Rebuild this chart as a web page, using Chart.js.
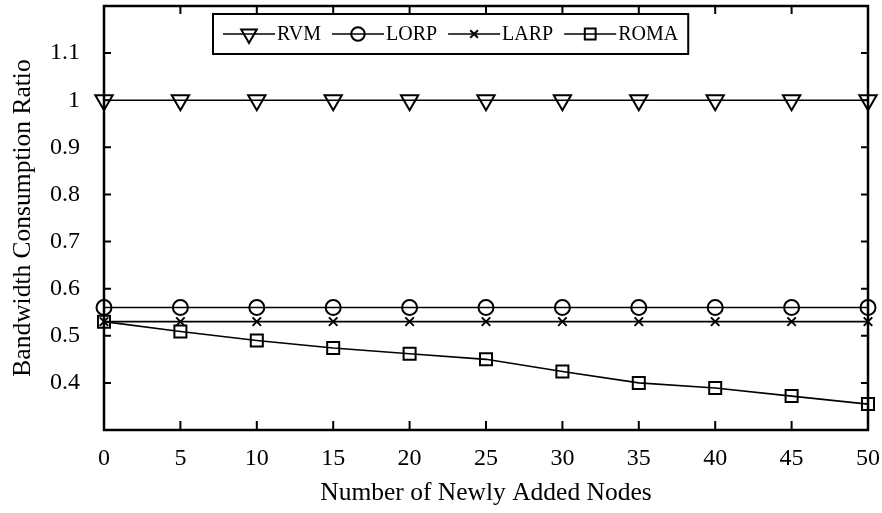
<!DOCTYPE html>
<html>
<head>
<meta charset="utf-8">
<script src="https://cdn.jsdelivr.net/npm/chart.js@4/dist/chart.umd.min.js"></script>
<style>
  body { margin: 0; background: #fff; }
  #wrap { width: 882px; height: 513px; }
</style>
</head>
<body>
<div id="wrap"><canvas id="chart" width="882" height="513"></canvas></div>
<script>
const xValues = [0, 5, 10, 15, 20, 25, 30, 35, 40, 45, 50];
const rvm  = [1, 1, 1, 1, 1, 1, 1, 1, 1, 1, 1];
const lorp = [0.56, 0.56, 0.56, 0.56, 0.56, 0.56, 0.56, 0.56, 0.56, 0.56, 0.56];
const larp = [0.53, 0.53, 0.53, 0.53, 0.53, 0.53, 0.53, 0.53, 0.53, 0.53, 0.53];
const roma = [0.53, 0.509, 0.49, 0.474, 0.462, 0.45, 0.424, 0.4, 0.389, 0.372, 0.355];
const seriesNames = ['RVM', 'LORP', 'LARP', 'ROMA'];

const FONT = '"Liberation Serif", "Times New Roman", serif';

function pts(arr) {
    return arr.map((v, i) => ({ x: xValues[i], y: v }));
}

var styles = [
    { pointStyle: 'triangle', radius: 10, rotation: 180 },
    { pointStyle: 'circle', radius: 7.5, rotation: 0 },
    { pointStyle: 'crossRot', radius: 6, rotation: 0 },
    { pointStyle: 'rect', radius: 8.5, rotation: 0 }
];

var datasets = [rvm, lorp, larp, roma].map((arr, i) => ({
    label: seriesNames[i],
    data: pts(arr),
    borderColor: '#000',
    borderWidth: 1.6,
    backgroundColor: 'rgba(0,0,0,0)',
    pointStyle: styles[i].pointStyle,
    pointRadius: styles[i].radius,
    pointRotation: styles[i].rotation,
    pointBorderWidth: 2,
    pointBorderColor: '#000',
    pointBackgroundColor: 'rgba(0,0,0,0)',
    pointHoverRadius: styles[i].radius,
    tension: 0,
    clip: false
}));

// pull the top of the plot area up to a fixed margin
const topFix = {
    id: 'topFix',
    afterLayout(chart, args, opts) {
        const ys = chart.scales.y;
        const a = chart.chartArea;
        ys.top = opts.top;
        ys.height = ys.bottom - opts.top;
        ys.configure();
        a.top = opts.top;
        a.height = a.bottom - a.top;
    }
};

// frame around plot with inward ticks on all four sides
const framePlugin = {
    id: 'frame',
    afterDatasetsDraw(chart) {
        const ctx = chart.ctx, a = chart.chartArea;
        const xs = chart.scales.x, ys = chart.scales.y;
        ctx.save();
        ctx.strokeStyle = '#000';
        ctx.lineWidth = 2;
        xs.ticks.forEach(t => {
            const px = xs.getPixelForValue(t.value);
            ctx.beginPath();
            ctx.moveTo(px, a.bottom); ctx.lineTo(px, a.bottom - 9);
            ctx.moveTo(px, a.top); ctx.lineTo(px, a.top + 8);
            ctx.stroke();
        });
        ys.ticks.forEach(t => {
            const py = ys.getPixelForValue(t.value);
            ctx.beginPath();
            ctx.moveTo(a.left, py); ctx.lineTo(a.left + 7, py);
            ctx.moveTo(a.right, py); ctx.lineTo(a.right - 7, py);
            ctx.stroke();
        });
        ctx.lineWidth = 2.5;
        ctx.strokeRect(a.left, a.top, a.right - a.left, a.bottom - a.top);
        ctx.restore();
    }
};

// boxed legend inside the plot area
const boxLegend = {
    id: 'boxLegend',
    afterDraw(chart, args, opts) {
        const ctx = chart.ctx, a = chart.chartArea;
        const left = a.left + opts.offsetX, top = a.top + opts.offsetY;
        const cy = top + opts.height / 2;
        ctx.save();
        ctx.font = opts.fontSize + 'px ' + FONT;
        ctx.textBaseline = 'middle';
        ctx.fillStyle = '#000';
        let x = left + opts.padding;
        chart.data.datasets.forEach((ds, i) => {
            ctx.strokeStyle = '#000';
            ctx.lineWidth = 1.6;
            ctx.beginPath();
            ctx.moveTo(x, cy); ctx.lineTo(x + opts.lineLen, cy);
            ctx.stroke();
            ctx.lineWidth = 2;
            ctx.fillStyle = 'rgba(0,0,0,0)';
            Chart.helpers.drawPoint(ctx, {
                pointStyle: styles[i].pointStyle,
                radius: styles[i].radius * 0.9,
                rotation: styles[i].rotation,
                borderWidth: 2
            }, x + opts.lineLen / 2, cy);
            ctx.fillStyle = '#000';
            ctx.fillText(ds.label, x + opts.lineLen + 2, cy + 1);
            x += opts.lineLen + 2 + ctx.measureText(ds.label).width + opts.gap;
        });
        const width = x - opts.gap + opts.padding - left;
        ctx.lineWidth = 2;
        ctx.strokeRect(left, top, width, opts.height);
        ctx.restore();
    }
};

var config = {
    type: 'line',
    data: { datasets: datasets },
    options: {
        responsive: false,
        animation: false,
        layout: { padding: { left: 4, right: 14, top: 6, bottom: 3 } },
        plugins: {
            legend: { display: false },
            tooltip: { enabled: false },
            topFix: { top: 6 },
            boxLegend: { offsetX: 109, offsetY: 8, height: 40, padding: 10, lineLen: 52, gap: 11, fontSize: 20 }
        },
        scales: {
            x: {
                type: 'linear',
                min: 0,
                max: 50,
                grid: { display: false, drawTicks: false },
                border: { display: false },
                ticks: { stepSize: 5, color: '#000', padding: 14, font: { family: FONT, size: 24 }, maxRotation: 0 },
                title: { display: true, text: 'Number of Newly Added Nodes', color: '#000', font: { family: FONT, size: 25.5 }, padding: { top: 5, bottom: 1 } },
                afterFit: function (scale) {
                    scale.paddingLeft = 0;
                    scale.paddingRight = 0;
                    scale.height = 80;
                }
            },
            y: {
                min: 0.3,
                max: 1.2,
                grid: { display: false, drawTicks: false },
                border: { display: false },
                ticks: {
                    stepSize: 0.1,
                    color: '#000',
                    padding: 24,
                    font: { family: FONT, size: 24 },
                    callback: function (value) {
                        if (value < 0.35 || value > 1.15) return '';
                        return parseFloat(value.toFixed(1)).toString();
                    }
                },
                title: { display: true, text: 'Bandwidth Consumption Ratio', color: '#000', font: { family: FONT, size: 25.5 }, padding: { top: 4, bottom: 4 } },
                afterFit: function (scale) {
                    scale.paddingTop = 0;
                    scale.paddingBottom = 0;
                    scale.width = 100;
                }
            }
        }
    },
    plugins: [topFix, framePlugin, boxLegend]
};

var chart = new Chart(document.getElementById('chart').getContext('2d'), config);
</script>
</body>
</html>
